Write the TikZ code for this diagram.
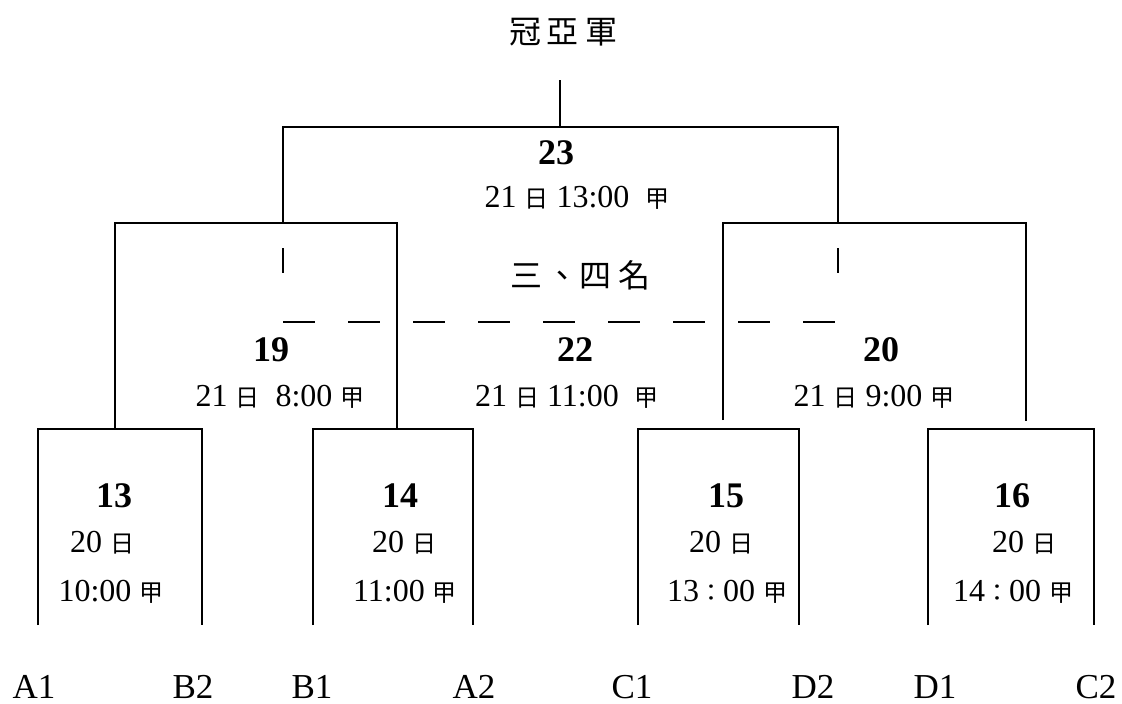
\documentclass[tikz,border=0pt]{standalone}
\usepackage{fontspec}
\setmainfont{Liberation Serif}
\newfontfamily\cjkfont{Noto Sans CJK TC}
\usepackage{tikz}
\tikzset{
    bracket-line/.style = {line width=1.6pt},
    third-line/.style = {line width=1.6pt, dash pattern=on 32pt off 33pt},
    match-num/.style = {font=\fontsize{36}{40}\selectfont\bfseries, inner sep=0pt},
    match-time/.style = {font=\fontsize{32}{36}\selectfont, inner sep=0pt},
    team-label/.style = {font=\fontsize{35}{40}\selectfont, inner sep=0pt},
    cjk-title/.style = {font=\fontsize{32}{38}\selectfont\cjkfont, inner sep=0pt},
}
\newcommand{\cjksmall}{\fontsize{24}{26}\selectfont\cjkfont}
\newcommand{\dayc}{{\cjksmall 日}}
\newcommand{\jiac}{{\cjksmall 甲}}
\newcommand{\wcolon}{{\cjksmall ：}}

\begin{document}
\begin{tikzpicture}[x=1pt, y=-1pt]
\useasboundingbox (0,0) rectangle (1122,704);

% final
\node[cjk-title] (title) at (563,32) {冠\hspace{6pt}亞\hspace{6pt}軍};
\node[match-num] (m23) at (556,153) {23};
\node[match-time] (m23-time) at (577,198) {21 \dayc{} 13:00 \ \jiac};
\node[cjk-title] (third) at (580,275) {三\hspace{4pt}、\hspace{2pt}四\hspace{6pt}名};

% semi finals, 3rd place
\node[match-num] (m19) at (271,350) {19};
\node[match-time] (m19-time) at (280,397) {21 \dayc{} \ 8:00 \jiac};
\node[match-num] (m22) at (575,350) {22};
\node[match-time] (m22-time) at (567,397) {21 \dayc{} 11:00 \ \jiac};
\node[match-num] (m20) at (881,350) {20};
\node[match-time] (m20-time) at (874,397) {21 \dayc{} 9:00 \jiac};

% first round
\node[match-num] (m13) at (114,496) {13};
\node[match-time] (m13-day) at (102,543) {20 \dayc};
\node[match-time] (m13-time) at (111,592) {10:00 \jiac};
\node[match-num] (m14) at (400,496) {14};
\node[match-time] (m14-day) at (404,543) {20 \dayc};
\node[match-time] (m14-time) at (405,592) {11:00 \jiac};
\node[match-num] (m15) at (726,496) {15};
\node[match-time] (m15-day) at (721,543) {20 \dayc};
\node[match-time] (m15-time) at (727,592) {13\wcolon00 \jiac};
\node[match-num] (m16) at (1012,496) {16};
\node[match-time] (m16-day) at (1024,543) {20 \dayc};
\node[match-time] (m16-time) at (1013,592) {14\wcolon00 \jiac};

% teams
\node[team-label] (team-A1) at (34,687) {A1};
\node[team-label] (team-B2) at (193,687) {B2};
\node[team-label] (team-B1) at (312,687) {B1};
\node[team-label] (team-A2) at (474,687) {A2};
\node[team-label] (team-C1) at (632,687) {C1};
\node[team-label] (team-D2) at (813,687) {D2};
\node[team-label] (team-D1) at (935,687) {D1};
\node[team-label] (team-C2) at (1096,687) {C2};

% first round brackets
\foreach \m/\xl/\xr in {13/38/202, 14/313/473, 15/638/799, 16/928/1094}{
    \coordinate (r\m-l) at (\xl,429);
    \coordinate (r\m-r) at (\xr,429);
    \coordinate (r\m-lf) at (\xl,625);
    \coordinate (r\m-rf) at (\xr,625);
    \draw[bracket-line] (r\m-lf) -- (r\m-l) -- (r\m-r) -- (r\m-rf);
}

% semi final brackets
\coordinate (s19-l) at (115,223);
\coordinate (s19-r) at (397,223);
\coordinate (s20-l) at (723,223);
\coordinate (s20-r) at (1026,223);
\coordinate (s20-lf) at (723,420);
\coordinate (s20-rf) at (1026,421);
\draw[bracket-line] (s19-l |- r13-l) -- (s19-l) -- (s19-r) -- (s19-r |- r14-r);
\draw[bracket-line] (s20-lf) -- (s20-l) -- (s20-r) -- (s20-rf);

% final bracket
\coordinate (champ) at (560,80);
\coordinate (f-l) at (283,127);
\coordinate (f-r) at (838,127);
\draw[bracket-line] (champ) -- (champ |- f-l);
\draw[bracket-line] (f-l |- s19-l) -- (f-l) -- (f-r) -- (f-r |- s20-r);

% 3rd place
\coordinate (t-l) at (283,248);
\coordinate (t-r) at (838,248);
\coordinate (t-lb) at (283,322);
\coordinate (t-rb) at (838,322);
\draw[bracket-line] (t-l) -- ++(0,25);
\draw[bracket-line] (t-r) -- ++(0,25);
\draw[third-line] (t-lb) -- (t-rb);
\end{tikzpicture}
\end{document}
